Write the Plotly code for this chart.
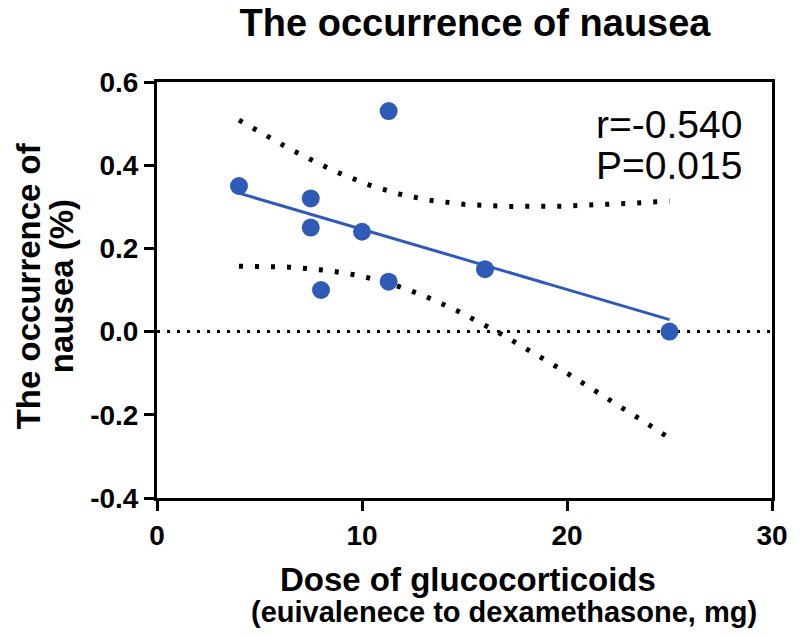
import numpy as np
import plotly.graph_objects as go

# Data
dose = [4, 7.5, 7.5, 8, 10, 11.3, 11.3, 16, 25]
nausea = [0.35, 0.32, 0.25, 0.10, 0.24, 0.53, 0.12, 0.15, 0.0]
r_text = "r=-0.540"
p_text = "P=0.015"
x_ticks = [0, 10, 20, 30]
y_ticks = [-0.4, -0.2, 0.0, 0.2, 0.4, 0.6]
y_tick_labels = ["-0.4", "-0.2", "0.0", "0.2", "0.4", "0.6"]
title_text = "The occurrence of nausea"
x_title_lines = ["Dose of glucocorticoids", "(euivalenece to dexamethasone, mg)"]
y_title_lines = ["The occurrence of", "nausea (%)"]

# Linear regression with 95% confidence band
x = np.array(dose, dtype=float)
y = np.array(nausea, dtype=float)
n = len(x)
slope, intercept = np.polyfit(x, y, 1)
xf = np.linspace(x.min(), x.max(), 200)
yf = intercept + slope * xf
resid = y - (intercept + slope * x)
s = np.sqrt(np.sum(resid ** 2) / (n - 2))
sxx = np.sum((x - x.mean()) ** 2)
t_crit = 2.365  # t(0.975, df=7)
se = s * np.sqrt(1 / n + (xf - x.mean()) ** 2 / sxx)
upper = yf + t_crit * se
lower = yf - t_crit * se

blue = "#2F5BB7"
font = "Liberation Sans, Arial, sans-serif"

fig = go.Figure()
fig.add_trace(go.Scatter(x=xf, y=upper, mode="lines",
                         line=dict(color="black", width=5, dash="4px,12px"),
                         hoverinfo="skip"))
fig.add_trace(go.Scatter(x=xf, y=lower, mode="lines",
                         line=dict(color="black", width=5, dash="4px,12px"),
                         hoverinfo="skip"))
fig.add_trace(go.Scatter(x=[x_ticks[0], x_ticks[-1]], y=[0, 0], mode="lines",
                         line=dict(color="black", width=3, dash="3px,7px"),
                         hoverinfo="skip"))
fig.add_trace(go.Scatter(x=xf, y=yf, mode="lines",
                         line=dict(color=blue, width=3)))
fig.add_trace(go.Scatter(x=dose, y=nausea, mode="markers",
                         marker=dict(color=blue, size=18)))

# r / P annotations
for txt, yy in [(r_text, 0.897), (p_text, 0.80)]:
    fig.add_annotation(xref="paper", yref="paper", x=0.955, y=yy,
                       xanchor="right", yanchor="middle", showarrow=False,
                       text=txt, font=dict(family=font, size=39, color="black"))

# x-axis title lines
for txt, xx, yy, fs in [(x_title_lines[0], 0.505, -0.196, 33),
                        (x_title_lines[1], 0.565, -0.275, 29)]:
    fig.add_annotation(xref="paper", yref="paper", x=xx, y=yy,
                       xanchor="center", yanchor="middle", showarrow=False,
                       text=f"<b>{txt}</b>",
                       font=dict(family=font, size=fs, color="black"))

# y-axis title lines
for txt, xx in [(y_title_lines[0], -0.209), (y_title_lines[1], -0.154)]:
    fig.add_annotation(xref="paper", yref="paper", x=xx, y=0.51,
                       xanchor="center", yanchor="middle", showarrow=False,
                       textangle=-90, text=f"<b>{txt}</b>",
                       font=dict(family=font, size=33, color="black"))

fig.update_layout(
    width=792, height=629,
    margin=dict(l=149, r=17, t=74, b=139),
    paper_bgcolor="white", plot_bgcolor="white",
    showlegend=False,
    title=dict(text=f"<b>{title_text}</b>", x=0.5897, xanchor="center",
               y=0.976, yanchor="middle",
               font=dict(family=font, size=38, color="black")),
    font=dict(family=font, color="black"),
)
fig.update_xaxes(range=[0, 30], tickvals=x_ticks,
                 ticktext=[f"<b>{v}</b>" for v in x_ticks],
                 ticks="outside", ticklen=10, tickwidth=3, tickcolor="black",
                 showline=True, linewidth=3, linecolor="black", mirror=True,
                 showgrid=False, zeroline=False,
                 tickfont=dict(family=font, size=28, color="black"))
fig.update_yaxes(range=[-0.4, 0.6], tickvals=y_ticks,
                 ticktext=[f"<b>{v}</b>" for v in y_tick_labels],
                 ticks="outside", ticklen=10, tickwidth=3, tickcolor="black",
                 showline=True, linewidth=3, linecolor="black", mirror=True,
                 showgrid=False, zeroline=False,
                 tickfont=dict(family=font, size=28, color="black"))

fig.write_html("out.html")
